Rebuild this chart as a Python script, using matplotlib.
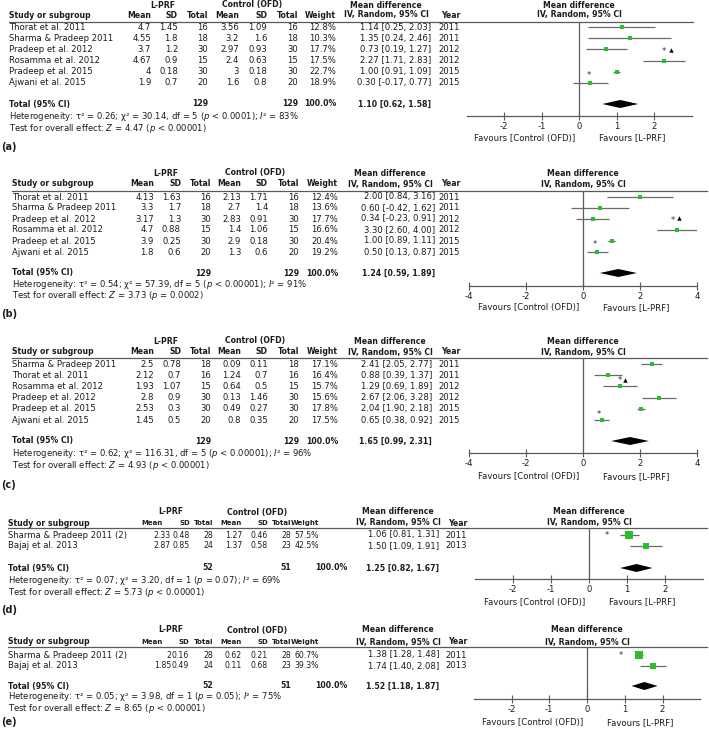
import matplotlib
matplotlib.use("Agg")
import matplotlib.pyplot as plt
from matplotlib.lines import Line2D

plt.rcParams["font.family"] = ["DejaVu Sans"]
plt.rcParams["mathtext.fontset"] = "dejavusans"

# ---------------- data ----------------
# (a)
A_STUDY = ["Thorat et al. 2011", "Sharma & Pradeep 2011", "Pradeep et al. 2012",
           "Rosamma et al. 2012", "Pradeep et al. 2015", "Ajwani et al. 2015"]
A_LPRF_MEAN = [4.7, 4.55, 3.7, 4.67, 4, 1.9]
A_LPRF_SD = [1.45, 1.8, 1.2, 0.9, 0.18, 0.7]
A_LPRF_N = [16, 18, 30, 15, 30, 20]
A_CTRL_MEAN = [3.56, 3.2, 2.97, 2.4, 3, 1.6]
A_CTRL_SD = [1.09, 1.6, 0.93, 0.63, 0.18, 0.8]
A_CTRL_N = [16, 18, 30, 15, 30, 20]
A_WEIGHT = [12.8, 10.3, 17.7, 17.5, 22.7, 18.9]
A_MD = [1.14, 1.35, 0.73, 2.27, 1.00, 0.30]
A_LO = [0.25, 0.24, 0.19, 1.71, 0.91, -0.17]
A_HI = [2.03, 2.46, 1.27, 2.83, 1.09, 0.77]
A_YEAR = [2011, 2011, 2012, 2012, 2015, 2015]
A_TOTAL = (1.10, 0.62, 1.58)
A_N_TOTAL = (129, 129)
A_HET = ("0.26", "30.14", 5, "< 0.0001", 83)
A_Z = ("4.47", "< 0.00001")
A_STARS = [(2.27, 2.2), (0.27, 4.3)]
A_TRIS = [(2.45, 2.05)]

# (b)
B_STUDY = ["Thorat et al. 2011", "Sharma & Pradeep 2011", "Pradeep et al. 2012",
           "Rosamma et al. 2012", "Pradeep et al. 2015", "Ajwani et al. 2015"]
B_LPRF_MEAN = [4.13, 3.3, 3.17, 4.7, 3.9, 1.8]
B_LPRF_SD = [1.63, 1.7, 1.3, 0.88, 0.25, 0.6]
B_LPRF_N = [16, 18, 30, 15, 30, 20]
B_CTRL_MEAN = [2.13, 2.7, 2.83, 1.4, 2.9, 1.3]
B_CTRL_SD = [1.71, 1.4, 0.91, 1.06, 0.18, 0.6]
B_CTRL_N = [16, 18, 30, 15, 30, 20]
B_WEIGHT = [12.4, 13.6, 17.7, 16.6, 20.4, 19.2]
B_MD = [2.00, 0.60, 0.34, 3.30, 1.00, 0.50]
B_LO = [0.84, -0.42, -0.23, 2.60, 0.89, 0.13]
B_HI = [3.16, 1.62, 0.91, 4.00, 1.11, 0.87]
B_YEAR = [2011, 2011, 2012, 2012, 2015, 2015]
B_TOTAL = (1.24, 0.59, 1.89)
B_N_TOTAL = (129, 129)
B_HET = ("0.54", "57.39", 5, "< 0.00001", 91)
B_Z = ("3.73", "= 0.0002")
B_STARS = [(3.16, 2.1), (0.42, 4.3)]
B_TRIS = [(3.37, 1.95)]

# (c)
C_STUDY = ["Sharma & Pradeep 2011", "Thorat et al. 2011", "Rosamma et al. 2012",
           "Pradeep et al. 2012", "Pradeep et al. 2015", "Ajwani et al. 2015"]
C_LPRF_MEAN = [2.5, 2.12, 1.93, 2.8, 2.53, 1.45]
C_LPRF_SD = [0.78, 0.7, 1.07, 0.9, 0.3, 0.5]
C_LPRF_N = [18, 16, 15, 30, 30, 20]
C_CTRL_MEAN = [0.09, 1.24, 0.64, 0.13, 0.49, 0.8]
C_CTRL_SD = [0.11, 0.7, 0.5, 1.46, 0.27, 0.35]
C_CTRL_N = [18, 16, 15, 30, 30, 20]
C_WEIGHT = [17.1, 16.4, 15.7, 15.6, 17.8, 17.5]
C_MD = [2.41, 0.88, 1.29, 2.67, 2.04, 0.65]
C_LO = [2.05, 0.39, 0.69, 2.06, 1.90, 0.38]
C_HI = [2.77, 1.37, 1.89, 3.28, 2.18, 0.92]
C_YEAR = [2011, 2011, 2012, 2012, 2015, 2015]
C_TOTAL = (1.65, 0.99, 2.31)
C_N_TOTAL = (129, 129)
C_HET = ("0.62", "116.31", 5, "< 0.00001", 96)
C_Z = ("4.93", "< 0.00001")
C_STARS = [(1.30, 1.5), (0.56, 4.5)]
C_TRIS = [(1.47, 1.4)]

# (d)
D_STUDY = ["Sharma & Pradeep 2011 (2)", "Bajaj et al. 2013"]
D_LPRF_MEAN = [2.33, 2.87]
D_LPRF_SD = [0.48, 0.85]
D_LPRF_N = [28, 24]
D_CTRL_MEAN = [1.27, 1.37]
D_CTRL_SD = [0.46, 0.58]
D_CTRL_N = [28, 23]
D_WEIGHT = [57.5, 42.5]
D_MD = [1.06, 1.50]
D_LO = [0.81, 1.09]
D_HI = [1.31, 1.91]
D_YEAR = [2011, 2013]
D_TOTAL = (1.25, 0.82, 1.67)
D_N_TOTAL = (52, 51)
D_HET = ("0.07", "3.20", 1, "= 0.07", 69)
D_Z = ("5.73", "< 0.00001")
D_STARS = [(0.47, 0.05)]
D_TRIS = []

# (e)
E_STUDY = ["Sharma & Pradeep 2011 (2)", "Bajaj et al. 2013"]
E_LPRF_MEAN = [2, 1.85]
E_LPRF_SD = [0.16, 0.49]
E_LPRF_N = [28, 24]
E_CTRL_MEAN = [0.62, 0.11]
E_CTRL_SD = [0.21, 0.68]
E_CTRL_N = [28, 23]
E_WEIGHT = [60.7, 39.3]
E_MD = [1.38, 1.74]
E_LO = [1.28, 1.40]
E_HI = [1.48, 2.08]
E_YEAR = [2011, 2013]
E_TOTAL = (1.52, 1.18, 1.87)
E_N_TOTAL = (52, 51)
E_HET = ("0.05", "3.98", 1, "= 0.05", 75)
E_Z = ("8.65", "< 0.00001")
E_STARS = [(0.90, 0.05)]
E_TRIS = []

PANEL_LABELS = ["(a)", "(b)", "(c)", "(d)", "(e)"]

# ---------------- layout (pixels, y from top) ----------------
LAYOUT = [
    dict(hdr1=5, hdr2=15, rule=22, row0=27.3, step=11.1, total=104, het=116.5, test=128.5,
         label=147, axis=116, fav=138, zero=579, ppu=37.5, ax_l=466.5, ax_r=691.5,
         ticks=[-2, -1, 0, 1, 2], left=9, rule_r=693,
         cols=[151, 178, 208, 239, 267, 298, 336], mean_hdr=151, tot_w=336,
         ci_r=431, year_r=460, lprf_c=163, ctrl_c=252, md_c=386, fs_num=6.1, fs_hdr=5.6),
    dict(hdr1=173, hdr2=184, rule=191, row0=197, step=11, total=273, het=284, test=296,
         label=314, axis=286, fav=308, zero=583, ppu=28.5, ax_l=469, ax_r=697,
         ticks=[-4, -2, 0, 2, 4], left=12, rule_r=707,
         cols=[154, 181, 211, 241, 268, 299, 338], mean_hdr=154, tot_w=338,
         ci_r=435, year_r=460, lprf_c=166, ctrl_c=255, md_c=390, fs_num=6.1, fs_hdr=5.6),
    dict(hdr1=341, hdr2=352, rule=358, row0=364, step=11.2, total=441, het=453, test=465,
         label=485, axis=453, fav=477, zero=583, ppu=28.5, ax_l=469, ax_r=697,
         ticks=[-4, -2, 0, 2, 4], left=12, rule_r=707,
         cols=[154, 181, 211, 241, 268, 299, 338], mean_hdr=154, tot_w=338,
         ci_r=432, year_r=460, lprf_c=166, ctrl_c=255, md_c=390, fs_num=6.1, fs_hdr=5.6),
    dict(hdr1=512, hdr2=523, rule=528, row0=535, step=11, total=568, het=580.5, test=592.5,
         label=610, axis=579, fav=602, zero=589, ppu=38, ax_l=475, ax_r=703,
         ticks=[-2, -1, 0, 1, 2], left=8, rule_r=707,
         cols=[171, 190, 213, 242, 268, 291, 319], mean_hdr=163, tot_w=347,
         ci_r=439, year_r=467, lprf_c=171, ctrl_c=257, md_c=398, fs_num=5.6, fs_hdr=5.0),
    dict(hdr1=630, hdr2=642, rule=647, row0=655, step=11, total=686, het=696.5, test=708.5,
         label=722, axis=699, fav=723, zero=587, ppu=37.75, ax_l=474, ax_r=700,
         ticks=[-2, -1, 0, 1, 2], left=8, rule_r=707,
         cols=[171, 189, 213, 242, 268, 291, 319], mean_hdr=163, tot_w=347,
         ci_r=439, year_r=467, lprf_c=171, ctrl_c=257, md_c=398, fs_num=5.6, fs_hdr=5.0),
]

W, H = 709, 731
FS = 6.1       # regular text
FSB = 5.6      # bold text
TEXT = "#1c1c1c"
GREEN = "#2bbd2b"
CI_COL = "#6a6a6a"
AX_COL = "#5a5a5a"


def fx(x):
    return x / W


def fy(y):
    return 1 - y / H


def num(v):
    return f"{v:g}"


fig = plt.figure(figsize=(W / 100, H / 100), dpi=100)


def txt(x, y, s, ha="left", bold=False, size=None):
    if size is None:
        size = FSB if bold else FS
    fig.text(fx(x), fy(y), s, ha=ha, va="center", fontsize=size,
             fontweight="bold" if bold else "normal", color=TEXT)


def draw_panel(L, label, study, m1, s1, n1, m2, s2, n2, weight, md, lo, hi, year,
               total, ntot, het, z, stars, tris):
    # headers
    txt(L["lprf_c"], L["hdr1"], "L-PRF", ha="center", bold=True)
    txt(L["ctrl_c"], L["hdr1"], "Control (OFD)", ha="center", bold=True)
    txt(L["md_c"], L["hdr1"], "Mean difference", ha="center", bold=True)
    txt(L["zero"], L["hdr1"], "Mean difference", ha="center", bold=True)
    txt(L["left"], L["hdr2"], "Study or subgroup", bold=True)
    heads = ["Mean", "SD", "Total", "Mean", "SD", "Total", "Weight"]
    for k, h in enumerate(heads):
        x = L["mean_hdr"] if k == 0 else L["cols"][k]
        txt(x, L["hdr2"], h, ha="right", bold=True, size=L["fs_hdr"])
    txt(L["md_c"], L["hdr2"], "IV, Random, 95% CI", ha="center", bold=True)
    txt(L["year_r"], L["hdr2"], "Year", ha="right", bold=True)
    txt(L["zero"], L["hdr2"], "IV, Random, 95% CI", ha="center", bold=True)
    fig.add_artist(Line2D([fx(L["left"]), fx(L["rule_r"])], [fy(L["rule"])] * 2,
                          color=AX_COL, lw=0.9))

    # study rows
    for i in range(len(study)):
        y = L["row0"] + i * L["step"]
        txt(L["left"], y, study[i])
        vals = [num(m1[i]), num(s1[i]), str(n1[i]), num(m2[i]), num(s2[i]),
                str(n2[i]), f"{weight[i]:.1f}%"]
        for k, v in enumerate(vals):
            txt(L["cols"][k], y, v, ha="right", size=L["fs_num"])
        txt(L["ci_r"], y, f"{md[i]:.2f} [{lo[i]:.2f}, {hi[i]:.2f}]", ha="right")
        txt(L["year_r"], y, str(year[i]), ha="right")

    # total row + statistics
    yt = L["total"]
    txt(L["left"], yt, "Total (95% CI)", bold=True)
    txt(L["cols"][2], yt, str(ntot[0]), ha="right", bold=True)
    txt(L["cols"][5], yt, str(ntot[1]), ha="right", bold=True)
    txt(L["tot_w"], yt, "100.0%", ha="right", bold=True)
    txt(L["ci_r"], yt, f"{total[0]:.2f} [{total[1]:.2f}, {total[2]:.2f}]", ha="right", bold=True)
    tau2, chi2, df, p, i2 = het
    txt(L["left"], L["het"],
        f"Heterogeneity: τ² = {tau2}; χ² = {chi2}, df = {df} ($p$ {p}); $I$² = {i2}%")
    txt(L["left"], L["test"], f"Test for overall effect: $Z$ = {z[0]} ($p$ {z[1]})")
    txt(1, L["label"], label, bold=True, size=7)

    # forest plot
    ax = fig.add_axes([fx(L["ax_l"]), fy(L["axis"]), (L["ax_r"] - L["ax_l"]) / W,
                       (L["axis"] - L["rule"]) / H])
    ax.patch.set_alpha(0)
    ax.set_xlim((L["ax_l"] - L["zero"]) / L["ppu"], (L["ax_r"] - L["zero"]) / L["ppu"])
    ax.set_ylim((L["axis"] - L["row0"]) / L["step"], (L["rule"] - L["row0"]) / L["step"])
    for s in ("left", "right", "top"):
        ax.spines[s].set_visible(False)
    ax.spines["bottom"].set_color(AX_COL)
    ax.spines["bottom"].set_linewidth(0.9)
    ax.set_yticks([])
    ax.set_xticks(L["ticks"])
    ax.set_xticklabels([str(t) for t in L["ticks"]])
    ax.tick_params(axis="x", direction="inout", length=6, width=0.8, color=AX_COL,
                   labelsize=FS, labelcolor=TEXT, pad=1.5)
    ax.axvline(0, color=AX_COL, lw=0.9)

    for i in range(len(study)):
        ax.hlines(i, lo[i], hi[i], color=CI_COL, lw=0.9)
        side = 0.95 * weight[i] ** 0.5
        ax.plot(md[i], i, marker="s", ms=side * 0.72, color=GREEN, mec=GREEN, mew=0)

    ti = (L["total"] - L["row0"]) / L["step"]
    dh = 4.0 / L["step"]
    ax.fill([total[1], total[0], total[2], total[0]], [ti, ti - dh, ti, ti + dh],
            color="black", lw=0)

    for sx, sy in stars:
        ax.text(sx, sy, "*", ha="center", va="center", fontsize=6, color="#333333")
    for tx, ty in tris:
        ax.plot(tx, ty, marker="^", ms=3.2, color="black", mew=0)

    txt(L["zero"] - 4, L["fav"], "Favours [Control (OFD)]", ha="right")
    txt(L["zero"] + 20, L["fav"], "Favours [L-PRF]", ha="left")


panels = [
    (A_STUDY, A_LPRF_MEAN, A_LPRF_SD, A_LPRF_N, A_CTRL_MEAN, A_CTRL_SD, A_CTRL_N,
     A_WEIGHT, A_MD, A_LO, A_HI, A_YEAR, A_TOTAL, A_N_TOTAL, A_HET, A_Z, A_STARS, A_TRIS),
    (B_STUDY, B_LPRF_MEAN, B_LPRF_SD, B_LPRF_N, B_CTRL_MEAN, B_CTRL_SD, B_CTRL_N,
     B_WEIGHT, B_MD, B_LO, B_HI, B_YEAR, B_TOTAL, B_N_TOTAL, B_HET, B_Z, B_STARS, B_TRIS),
    (C_STUDY, C_LPRF_MEAN, C_LPRF_SD, C_LPRF_N, C_CTRL_MEAN, C_CTRL_SD, C_CTRL_N,
     C_WEIGHT, C_MD, C_LO, C_HI, C_YEAR, C_TOTAL, C_N_TOTAL, C_HET, C_Z, C_STARS, C_TRIS),
    (D_STUDY, D_LPRF_MEAN, D_LPRF_SD, D_LPRF_N, D_CTRL_MEAN, D_CTRL_SD, D_CTRL_N,
     D_WEIGHT, D_MD, D_LO, D_HI, D_YEAR, D_TOTAL, D_N_TOTAL, D_HET, D_Z, D_STARS, D_TRIS),
    (E_STUDY, E_LPRF_MEAN, E_LPRF_SD, E_LPRF_N, E_CTRL_MEAN, E_CTRL_SD, E_CTRL_N,
     E_WEIGHT, E_MD, E_LO, E_HI, E_YEAR, E_TOTAL, E_N_TOTAL, E_HET, E_Z, E_STARS, E_TRIS),
]

for L, label, data in zip(LAYOUT, PANEL_LABELS, panels):
    draw_panel(L, label, *data)

fig.savefig("out.png", dpi=100, facecolor="white")
